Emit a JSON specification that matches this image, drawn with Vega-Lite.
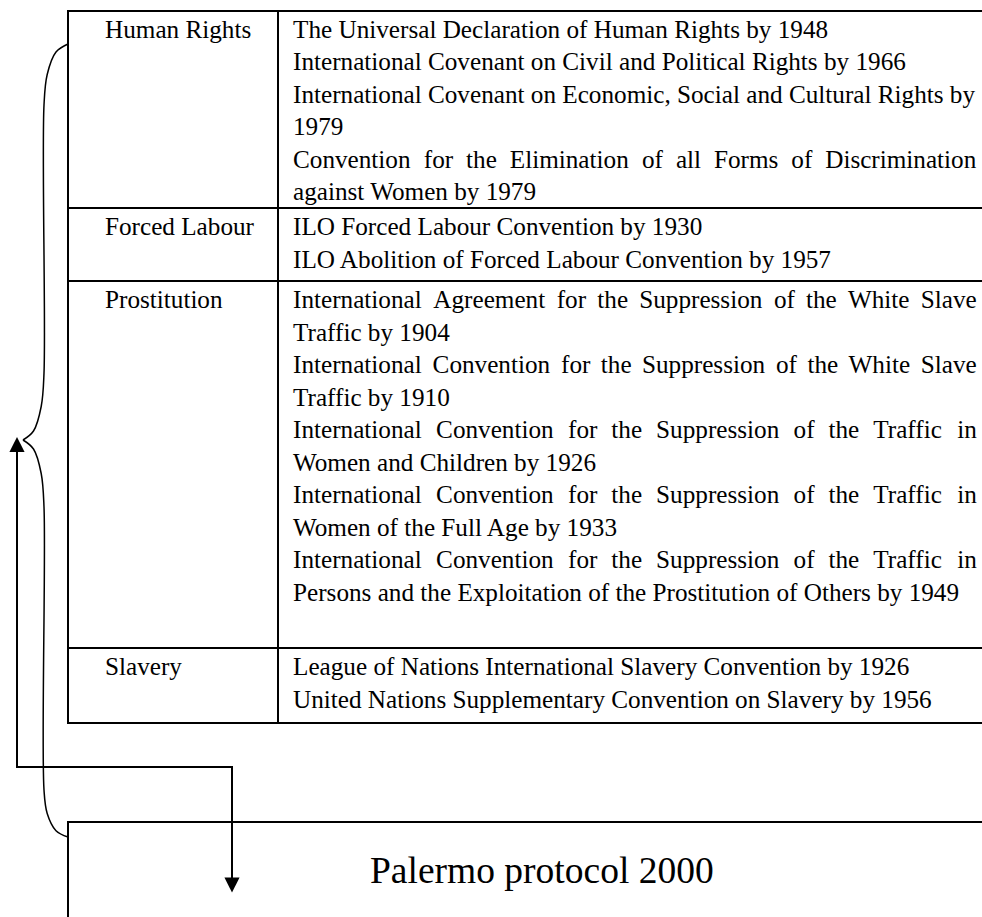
{
  "$schema": "https://vega.github.io/schema/vega-lite/v6.json",
  "width": 982,
  "height": 917,
  "autosize": {"type": "none"},
  "padding": 0,
  "background": "white",
  "config": {"view": {"stroke": null}},
  "datasets": {
    "borders": [
      {"x1": 68, "x2": 982, "y1": 11, "y2": 11},
      {"x1": 68, "x2": 982, "y1": 208, "y2": 208},
      {"x1": 68, "x2": 982, "y1": 281, "y2": 281},
      {"x1": 68, "x2": 982, "y1": 648, "y2": 648},
      {"x1": 68, "x2": 982, "y1": 723, "y2": 723},
      {"x1": 68, "x2": 68, "y1": 11, "y2": 723},
      {"x1": 278, "x2": 278, "y1": 11, "y2": 723},
      {"x1": 68, "x2": 982, "y1": 822, "y2": 822},
      {"x1": 68, "x2": 68, "y1": 822, "y2": 917}
    ],
    "arrow": [
      {"i": 0, "x": 17, "y": 448},
      {"i": 1, "x": 17, "y": 767},
      {"i": 2, "x": 232, "y": 767},
      {"i": 3, "x": 232, "y": 882}
    ],
    "brace": [
      {"seg": "upper", "i": 0, "x": 68, "y": 44},
      {"seg": "upper", "i": 1, "x": 56, "y": 52},
      {"seg": "upper", "i": 2, "x": 47.2, "y": 74.5},
      {"seg": "upper", "i": 3, "x": 44, "y": 105},
      {"seg": "upper", "i": 4, "x": 44, "y": 373},
      {"seg": "upper", "i": 5, "x": 41.2, "y": 406.5},
      {"seg": "upper", "i": 6, "x": 33.5, "y": 431},
      {"seg": "upper", "i": 7, "x": 23, "y": 440},
      {"seg": "lower", "i": 0, "x": 23, "y": 440},
      {"seg": "lower", "i": 1, "x": 33.5, "y": 449},
      {"seg": "lower", "i": 2, "x": 41.2, "y": 473.5},
      {"seg": "lower", "i": 3, "x": 44, "y": 507},
      {"seg": "lower", "i": 4, "x": 44, "y": 790},
      {"seg": "lower", "i": 5, "x": 47.2, "y": 813.5},
      {"seg": "lower", "i": 6, "x": 56, "y": 830.7},
      {"seg": "lower", "i": 7, "x": 68, "y": 837}
    ],
    "heads": [
      {"dir": "up", "x": 17, "y": 444.5},
      {"dir": "down", "x": 232, "y": 885}
    ],
    "cells": [
      {"x": 105, "y": 37.5, "t": "Human Rights"},
      {"x": 105, "y": 235, "t": "Forced Labour"},
      {"x": 105, "y": 308, "t": "Prostitution"},
      {"x": 105, "y": 675, "t": "Slavery"},
      {"x": 293, "y": 37.5, "t": "The Universal Declaration of Human Rights by 1948"},
      {"x": 293, "y": 70, "t": "International Covenant on Civil and Political Rights by 1966"},
      {"x": 293, "y": 102.5, "t": "International Covenant on Economic, Social and Cultural Rights by"},
      {"x": 293, "y": 135, "t": "1979"},
      {"x": 293, "y": 167.5, "t": "Convention"},
      {"x": 423.8, "y": 167.5, "t": "for"},
      {"x": 466.1, "y": 167.5, "t": "the"},
      {"x": 509.8, "y": 167.5, "t": "Elimination"},
      {"x": 642.0, "y": 167.5, "t": "of"},
      {"x": 675.9, "y": 167.5, "t": "all"},
      {"x": 713.9, "y": 167.5, "t": "Forms"},
      {"x": 791.3, "y": 167.5, "t": "of"},
      {"x": 825.2, "y": 167.5, "t": "Discrimination"},
      {"x": 293, "y": 200, "t": "against Women by 1979"},
      {"x": 293, "y": 235, "t": "ILO Forced Labour Convention by 1930"},
      {"x": 293, "y": 267.5, "t": "ILO Abolition of Forced Labour Convention by 1957"},
      {"x": 293, "y": 308, "t": "International"},
      {"x": 433.3, "y": 308, "t": "Agreement"},
      {"x": 556.7, "y": 308, "t": "for"},
      {"x": 597.3, "y": 308, "t": "the"},
      {"x": 639.2, "y": 308, "t": "Suppression"},
      {"x": 773.9, "y": 308, "t": "of"},
      {"x": 806.0, "y": 308, "t": "the"},
      {"x": 847.9, "y": 308, "t": "White"},
      {"x": 920.8, "y": 308, "t": "Slave"},
      {"x": 293, "y": 340.5, "t": "Traffic by 1904"},
      {"x": 293, "y": 373, "t": "International"},
      {"x": 432.6, "y": 373, "t": "Convention"},
      {"x": 561.0, "y": 373, "t": "for"},
      {"x": 600.8, "y": 373, "t": "the"},
      {"x": 642.0, "y": 373, "t": "Suppression"},
      {"x": 776.0, "y": 373, "t": "of"},
      {"x": 807.4, "y": 373, "t": "the"},
      {"x": 848.6, "y": 373, "t": "White"},
      {"x": 920.8, "y": 373, "t": "Slave"},
      {"x": 293, "y": 405.5, "t": "Traffic by 1910"},
      {"x": 293, "y": 438, "t": "International"},
      {"x": 436.1, "y": 438, "t": "Convention"},
      {"x": 568.0, "y": 438, "t": "for"},
      {"x": 611.3, "y": 438, "t": "the"},
      {"x": 656.1, "y": 438, "t": "Suppression"},
      {"x": 793.6, "y": 438, "t": "of"},
      {"x": 828.5, "y": 438, "t": "the"},
      {"x": 873.3, "y": 438, "t": "Traffic"},
      {"x": 957.3, "y": 438, "t": "in"},
      {"x": 293, "y": 470.5, "t": "Women and Children by 1926"},
      {"x": 293, "y": 503, "t": "International"},
      {"x": 436.1, "y": 503, "t": "Convention"},
      {"x": 568.0, "y": 503, "t": "for"},
      {"x": 611.3, "y": 503, "t": "the"},
      {"x": 656.1, "y": 503, "t": "Suppression"},
      {"x": 793.6, "y": 503, "t": "of"},
      {"x": 828.5, "y": 503, "t": "the"},
      {"x": 873.3, "y": 503, "t": "Traffic"},
      {"x": 957.3, "y": 503, "t": "in"},
      {"x": 293, "y": 535.5, "t": "Women of the Full Age by 1933"},
      {"x": 293, "y": 568, "t": "International"},
      {"x": 436.1, "y": 568, "t": "Convention"},
      {"x": 568.0, "y": 568, "t": "for"},
      {"x": 611.3, "y": 568, "t": "the"},
      {"x": 656.1, "y": 568, "t": "Suppression"},
      {"x": 793.6, "y": 568, "t": "of"},
      {"x": 828.5, "y": 568, "t": "the"},
      {"x": 873.3, "y": 568, "t": "Traffic"},
      {"x": 957.3, "y": 568, "t": "in"},
      {"x": 293, "y": 600.5, "t": "Persons and the Exploitation of the Prostitution of Others by 1949"},
      {"x": 293, "y": 675, "t": "League of Nations International Slavery Convention by 1926"},
      {"x": 293, "y": 707.5, "t": "United Nations Supplementary Convention on Slavery by 1956"}
    ],
    "title": [
      {"x": 370, "y": 883, "t": "Palermo protocol 2000"}
    ]
  },
  "layer": [
    {
      "data": {"name": "borders"},
      "mark": {"type": "rule", "color": "black", "strokeWidth": 2, "strokeCap": "square"},
      "encoding": {
        "x": {"field": "x1", "type": "quantitative", "scale": {"domain": [0, 982], "range": [0, 982], "nice": false, "zero": false}, "axis": null},
        "x2": {"field": "x2"},
        "y": {"field": "y1", "type": "quantitative", "scale": {"domain": [0, 917], "range": [0, 917], "nice": false, "zero": false}, "axis": null},
        "y2": {"field": "y2"}
      }
    },
    {
      "data": {"name": "arrow"},
      "mark": {"type": "line", "color": "black", "strokeWidth": 2, "strokeJoin": "miter"},
      "encoding": {
        "x": {"field": "x", "type": "quantitative", "axis": null},
        "y": {"field": "y", "type": "quantitative", "axis": null},
        "order": {"field": "i", "type": "quantitative"}
      }
    },
    {
      "data": {"name": "brace"},
      "mark": {"type": "line", "color": "black", "strokeWidth": 1.5, "interpolate": "catmull-rom"},
      "encoding": {
        "x": {"field": "x", "type": "quantitative", "axis": null},
        "y": {"field": "y", "type": "quantitative", "axis": null},
        "detail": {"field": "seg", "type": "nominal"},
        "order": {"field": "i", "type": "quantitative"}
      }
    },
    {
      "data": {"name": "heads"},
      "mark": {"type": "point", "filled": true, "fill": "black", "stroke": null, "opacity": 1, "size": 230},
      "encoding": {
        "x": {"field": "x", "type": "quantitative", "axis": null},
        "y": {"field": "y", "type": "quantitative", "axis": null},
        "shape": {"field": "dir", "type": "nominal", "scale": {"domain": ["up", "down"], "range": ["M-1,1L0,-1L1,1Z", "M-1,-1L0,1L1,-1Z"]}, "legend": null}
      }
    },
    {
      "data": {"name": "cells"},
      "mark": {"type": "text", "font": "Liberation Serif", "fontSize": 25.2, "align": "left", "baseline": "alphabetic", "color": "black"},
      "encoding": {
        "x": {"field": "x", "type": "quantitative", "axis": null},
        "y": {"field": "y", "type": "quantitative", "axis": null},
        "text": {"field": "t", "type": "nominal"}
      }
    },
    {
      "data": {"name": "title"},
      "mark": {"type": "text", "font": "Liberation Serif", "fontSize": 37.5, "align": "left", "baseline": "alphabetic", "color": "black"},
      "encoding": {
        "x": {"field": "x", "type": "quantitative", "axis": null},
        "y": {"field": "y", "type": "quantitative", "axis": null},
        "text": {"field": "t", "type": "nominal"}
      }
    }
  ]
}
